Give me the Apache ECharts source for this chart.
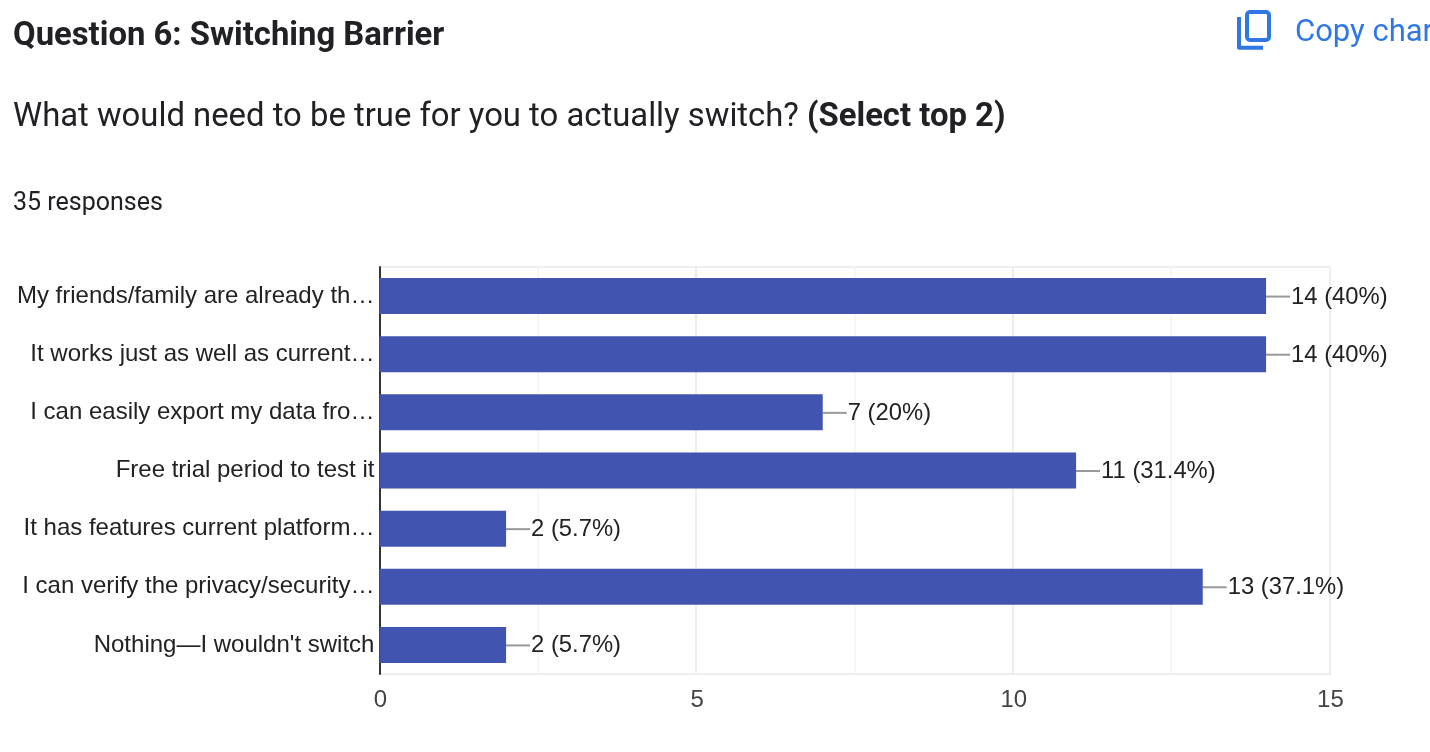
<!DOCTYPE html>
<html><head><meta charset="utf-8">
<style>html,body{margin:0;padding:0;background:#fff;overflow:hidden}#c{width:1430px;height:752px}</style>
<script src="https://cdn.jsdelivr.net/npm/echarts@6/dist/echarts.min.js"></script>
</head><body><div id="c"></div>
<script>
const categories = ["My friends/family are already th…","It works just as well as current…","I can easily export my data fro…","Free trial period to test it","It has features current platform…","I can verify the privacy/security…","Nothing—I wouldn't switch"];
const counts = [14,14,7,11,2,13,2];
const percents = ["40%","40%","20%","31.4%","5.7%","37.1%","5.7%"];
const xTicks = [0,5,10,15];
const AF = '"Liberation Sans", Arial, sans-serif';
const RF = 'Roboto, sans-serif';
const chart = echarts.init(document.getElementById('c'), null, {renderer:'canvas'});
chart.setOption({
  animation:false,
  backgroundColor:'#fff',
  grid:{left:379.4,right:100.6,top:267,bottom:78,containLabel:false},
  xAxis:{type:'value',min:0,max:15,interval:5,minorTick:{show:false,splitNumber:2},
    minorSplitLine:{show:true,lineStyle:{color:'#f6f6f6',width:2}},
    splitLine:{show:true,lineStyle:{color:'#eeeeee',width:2}},
    axisLine:{show:false},axisTick:{show:false},
    axisLabel:{color:'#444',fontFamily:AF,fontSize:24,margin:14,padding:[0,0,0,2],formatter:v=>xTicks.includes(v)?String(v):''}},
  yAxis:{type:'category',inverse:true,data:categories,
    axisLine:{show:true,lineStyle:{color:'#333',width:2}},axisTick:{show:false},
    splitLine:{show:false},
    axisLabel:{color:'#222',fontFamily:AF,fontSize:24,margin:5,padding:[3,0,0,0],align:'right'}},
  series:[
    {type:'custom',z:1,silent:true,data:counts.map((v,i)=>[v,i]),
      renderItem(p,api){
        const a=api.coord([api.value(0),api.value(1)]);
        return {type:'line',shape:{x1:a[0],y1:a[1]+0.5,x2:a[0]+24,y2:a[1]+0.5},style:{stroke:'#999',lineWidth:2}};
      }},
    {type:'bar',z:2,data:counts,barWidth:36,itemStyle:{color:'#4154af'},
      label:{show:true,position:'right',distance:25,offset:[0,1],color:'#222',fontFamily:AF,fontSize:23.8,
        formatter:p=>`${p.value} (${percents[p.dataIndex]})`}}
  ],
  graphic:[
    {type:'rect',shape:{x:380,y:266,width:950,height:2},style:{fill:'#eeeeee'},z:0,silent:true},
    {type:'rect',shape:{x:380,y:673,width:951,height:2},style:{fill:'#eeeeee'},z:0,silent:true},
    {type:'text',left:13,top:20,style:{text:'Question 6: Switching Barrier',font:`bold 32.85px ${RF}`,fill:'#202124'}},
    {type:'text',left:13,top:101,style:{rich:{a:{font:`32.85px ${RF}`,fill:'#202124'},b:{font:`bold 32.85px ${RF}`,fill:'#202124'}},text:'{a|What would need to be true for you to actually switch? }{b|(Select top 2)}'}},
    {type:'text',left:13,top:191,style:{text:'35 responses',font:`25px ${RF}`,fill:'#202124'}},
    {type:'text',left:1295,top:18,style:{text:'Copy chart',font:`31px ${RF}`,fill:'#2f78e4'}},
    {type:'rect',shape:{x:1247,y:12,width:22,height:28,r:3},style:{fill:'none',stroke:'#2f78e4',lineWidth:4}},
    {type:'polyline',shape:{points:[[1239,17],[1239,47.7],[1263,47.7]]},style:{fill:'none',stroke:'#2f78e4',lineWidth:4,lineJoin:'round'}}
  ]
});
</script></body></html>
